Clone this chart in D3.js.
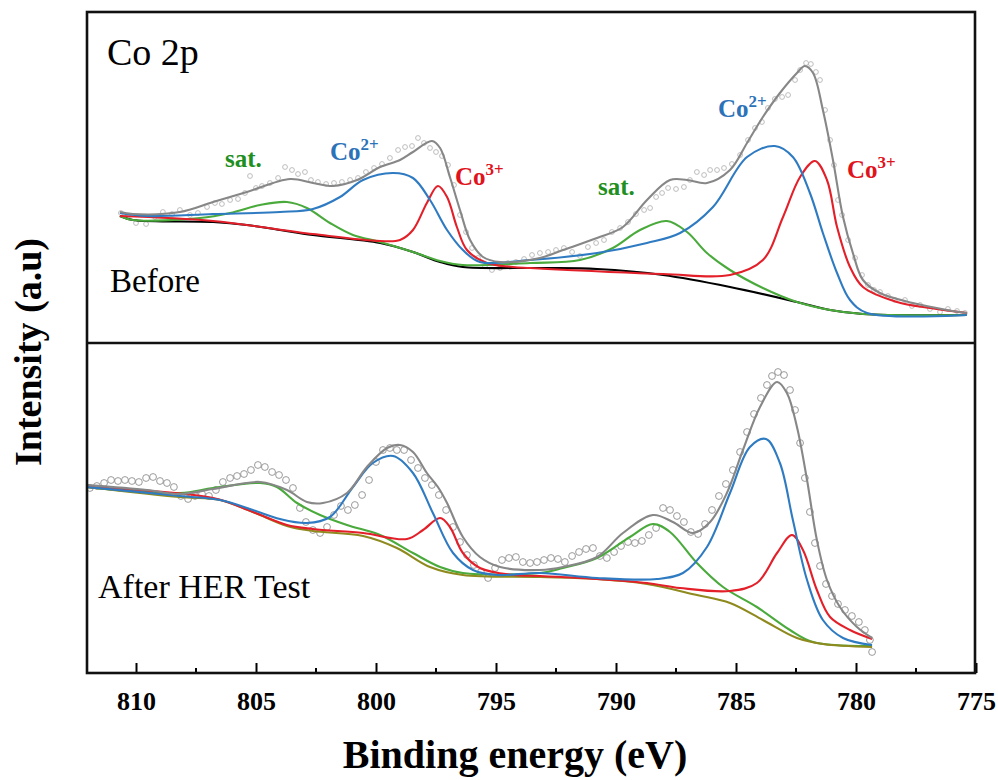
<!DOCTYPE html>
<html>
<head>
<meta charset="utf-8">
<script src="https://cdn.jsdelivr.net/npm/d3@7"></script>
<style>
  body { margin: 0; background: #fff; }
  svg { display: block; }
</style>
</head>
<body>
<div id="container"></div>
<script>
    // Tick values of the binding energy axis
    const majorTicks = [810, 805, 800, 795, 790, 785, 780, 775];
    const minorTicks = [807.5, 802.5, 797.5, 792.5, 787.5, 782.5, 777.5];

    // Before: [binding energy (eV), intensity (a.u.)]
    const topRaw = [[810.63,130],[810.33,127],[810.0,120],[809.58,119],[809.21,126],[808.88,131],[808.5,129],[808.17,133],[807.75,128],[807.42,130],[807.04,136],[806.71,140],[806.42,139],[806.08,143],[805.75,144],[805.46,150],[805.25,167],[805.0,155],[804.75,157],[804.42,160],[804.08,165],[803.79,176],[803.5,173],[803.25,169],[802.96,171],[802.71,163],[802.42,161],[802.08,159],[801.75,160],[801.42,161],[801.08,163],[800.75,165],[800.42,171],[800.08,175],[799.75,179],[799.42,185],[799.08,193],[798.79,196],[798.5,197],[798.25,205],[798.0,200],[797.75,195],[797.5,191],[797.25,187],[797.0,178],[796.75,158],[796.5,128],[796.25,111],[796.0,95],[795.75,85],[795.46,77],[795.17,73],[794.83,75],[794.5,80],[794.17,81],[793.83,84],[793.5,88],[793.17,90],[792.83,91],[792.5,93],[792.17,95],[791.83,91],[791.5,87],[791.17,96],[790.83,100],[790.5,103],[790.17,111],[789.83,115],[789.5,121],[789.17,129],[788.83,133],[788.58,135],[788.33,146],[788.08,150],[787.83,155],[787.5,154],[787.17,156],[786.92,163],[786.63,171],[786.33,168],[786.08,173],[785.79,173],[785.5,175],[785.17,179],[784.83,188],[784.5,203],[784.21,215],[783.92,221],[783.67,235],[783.38,244],[783.08,246],[782.83,248],[782.54,263],[782.33,273],[782.08,280],[781.88,279],[781.67,271],[781.5,263],[781.29,233],[781.08,203],[780.92,178],[780.75,143],[780.58,128],[780.33,103],[780.04,85],[779.75,68],[779.5,58],[779.25,53],[779.0,51],[778.67,47],[778.38,43],[777.96,43],[777.67,37],[777.33,38],[776.92,34],[776.5,31],[776.17,34],[775.79,32],[775.46,30]];
    const topFit = [[810.67,131],[810.13,129],[808.17,131],[806.79,141],[805.38,151],[803.58,164],[802.63,160],[801.79,157],[800.79,163],[799.83,176],[799.0,183],[798.46,191],[797.67,202],[797.33,195],[796.92,166],[796.5,133],[796.08,103],[795.54,86],[794.83,81],[793.17,85],[792.21,93],[790.79,105],[789.71,116],[788.71,143],[787.75,163],[787.04,163],[786.21,160],[785.25,173],[784.54,200],[783.88,226],[783.17,250],[782.46,270],[782.13,277],[781.79,270],[781.38,233],[780.96,183],[780.54,126],[780.13,90],[779.71,63],[779.0,50],[777.63,40],[776.21,33],[775.38,30]];
    const topBg = [[810.67,127],[810.13,123],[806.79,121],[805.38,118],[804.0,113],[802.63,108],[799.83,100],[798.46,91],[797.33,81],[796.38,76],[793.17,75],[790.79,74],[788.04,68],[785.25,56],[782.46,41],[781.08,33],[779.71,29],[775.38,28]];
    const topSat = [[810.67,127],[810.13,123],[807.33,125],[806.08,130],[804.83,138],[803.71,141],[802.88,135],[801.92,120],[800.96,108],[799.83,101],[798.46,91],[797.33,82],[796.38,78],[793.58,80],[791.5,83],[790.13,95],[789.0,113],[787.88,122],[787.04,111],[786.21,90],[785.25,73],[783.88,55],[782.46,41],[781.08,33],[779.71,29],[775.38,28]];
    const topCo2 = [[810.67,130],[809.54,127],[806.79,129],[804.0,131],[802.63,134],[801.5,146],[800.54,163],[799.29,170],[798.46,165],[797.75,143],[797.04,113],[796.38,93],[795.67,81],[793.58,83],[790.79,90],[788.71,100],[787.33,110],[785.96,136],[784.54,186],[783.38,197],[782.63,186],[781.92,150],[781.38,110],[780.79,70],[780.25,43],[779.54,30],[775.38,28]];
    const topCo3 = [[810.67,127],[806.79,122],[802.63,109],[799.83,102],[799.0,103],[798.46,113],[797.88,140],[797.42,157],[797.04,146],[796.63,116],[796.21,93],[795.38,80],[794.29,76],[793.58,75],[788.04,69],[785.25,68],[783.88,83],[783.04,126],[782.33,166],[781.71,182],[781.21,163],[780.79,116],[780.25,76],[779.71,56],[778.29,41],[776.92,35],[775.38,30]];

    // After HER test: [binding energy (eV), intensity (a.u.)]
    const botRaw = [[811.92,185],[811.63,187],[811.33,190],[811.04,193],[810.75,192],[810.46,193],[810.17,192],[809.88,191],[809.58,195],[809.29,196],[809.0,192],[808.71,190],[808.42,186],[808.13,177],[807.83,174],[807.54,177],[807.25,179],[806.96,177],[806.67,183],[806.38,191],[806.08,195],[805.79,197],[805.5,199],[805.21,203],[804.92,208],[804.63,206],[804.33,201],[804.04,198],[803.75,193],[803.46,185],[803.17,165],[802.92,151],[802.63,143],[802.33,140],[802.04,146],[801.75,158],[801.46,167],[801.17,163],[800.88,168],[800.58,178],[800.29,193],[800.0,211],[799.71,223],[799.42,225],[799.13,223],[798.83,223],[798.54,213],[798.25,205],[797.96,195],[797.67,188],[797.38,178],[797.08,163],[796.79,146],[796.5,131],[796.21,118],[795.92,108],[795.63,101],[795.33,95],[795.04,105],[794.75,113],[794.46,115],[794.17,116],[793.88,111],[793.58,110],[793.29,111],[793.0,113],[792.71,115],[792.42,114],[792.13,111],[791.83,117],[791.54,121],[791.25,124],[790.96,125],[790.67,117],[790.38,115],[790.08,121],[789.79,127],[789.5,131],[789.21,130],[788.92,132],[788.63,138],[788.33,145],[788.04,165],[787.75,163],[787.46,157],[787.17,151],[786.88,141],[786.58,139],[786.29,149],[786.0,163],[785.71,177],[785.42,189],[785.13,203],[784.83,221],[784.54,241],[784.25,259],[783.96,275],[783.71,288],[783.5,297],[783.25,301],[783.0,298],[782.75,283],[782.54,263],[782.33,230],[782.13,195],[781.92,161],[781.71,130],[781.5,107],[781.25,89],[781.0,77],[780.75,69],[780.46,63],[780.17,57],[779.88,51],[779.63,43],[779.42,33],[779.33,21]];
    const botFit = [[812.04,188],[809.54,183],[808.17,179],[806.79,184],[804.83,191],[803.71,183],[802.88,171],[802.21,170],[801.21,180],[800.38,206],[799.54,225],[799.0,228],[798.46,221],[797.88,200],[797.42,186],[797.04,170],[796.38,136],[795.67,116],[794.83,106],[793.17,103],[792.21,106],[790.79,116],[789.71,140],[788.46,158],[787.63,151],[786.79,140],[786.08,151],[785.38,180],[784.71,223],[784.0,266],[783.29,291],[782.88,280],[782.46,246],[782.04,193],[781.63,133],[781.21,93],[780.67,66],[779.96,46],[779.33,35]];
    const botBg = [[812.04,186],[808.17,176],[806.5,173],[805.13,161],[803.71,147],[802.63,142],[800.54,137],[799.13,125],[797.75,106],[796.38,98],[793.17,96],[790.79,94],[788.71,89],[786.63,78],[785.25,70],[783.88,53],[782.46,35],[781.38,29],[779.33,26]];
    const botSat = [[812.04,186],[808.17,180],[806.79,185],[804.83,190],[804.13,186],[803.29,170],[802.33,158],[801.21,148],[799.83,138],[798.46,120],[797.33,106],[796.38,100],[793.17,100],[792.21,105],[790.79,115],[789.42,136],[788.46,149],[787.75,141],[786.63,110],[785.54,86],[784.13,66],[782.75,43],[781.79,31],[779.33,27]];
    const botCo2 = [[812.04,186],[808.17,177],[806.5,173],[805.13,163],[804.0,154],[802.88,150],[801.92,156],[800.96,186],[800.13,210],[799.29,217],[798.46,200],[797.63,160],[796.79,120],[795.96,103],[794.96,98],[793.17,100],[790.79,95],[788.29,94],[787.21,100],[786.21,126],[785.25,180],[784.42,226],[783.75,234],[783.17,210],[782.63,153],[782.04,93],[781.38,53],[780.54,35],[779.33,28]];
    const botCo3 = [[812.04,186],[806.79,175],[805.13,161],[803.71,148],[802.63,144],[800.54,140],[798.71,134],[798.04,143],[797.33,155],[796.92,146],[796.38,120],[795.67,105],[794.29,98],[793.17,97],[790.79,94],[788.71,90],[787.33,85],[785.25,82],[784.13,90],[783.29,120],[782.67,138],[782.21,123],[781.63,83],[781.08,56],[780.25,43],[779.33,34]];

    // Peak labels: [text, superscript, binding energy, intensity]
    const topLabels = [["sat.", "", 806.29, 176], ["Co", "2+", 801.92, 183], ["Co", "3+", 796.71, 158],
                       ["sat.", "", 790.75, 148], ["Co", "2+", 785.75, 226], ["Co", "3+", 780.38, 165]];

    const labelColor = { "sat.": "#1f8f22", "2+": "#2c72b8", "3+": "#e0121c" };

    const svg = d3.select("#container")
                    .append("svg")
                    .attr("width", 998)
                    .attr("height", 780);

    const serif = "'Liberation Serif', 'Times New Roman', serif";

    // Scales
    const x = d3.scaleLinear().domain([812, 775]).range([88, 976]);
    const yTop = d3.scaleLinear().domain([0, 330]).range([343, 13]);
    const yBot = d3.scaleLinear().domain([0, 330]).range([673, 343]);

    const panels = [
        { y: yTop, raw: topRaw, r: 2.4, rawStroke: "#b5b5b5",
          curves: [[topBg, "#000"], [topSat, "#4aaa3c"], [topCo3, "#e3202a"], [topCo2, "#2f7bc2"], [topFit, "#878787"]] },
        { y: yBot, raw: botRaw, r: 3.4, rawStroke: "#8f8f8f",
          curves: [[botSat, "#4aaa3c"], [botBg, "#8f8a1e"], [botCo3, "#e3202a"], [botCo2, "#2f7bc2"], [botFit, "#878787"]] }
    ];

    const clip = svg.append("clipPath").attr("id", "plotclip")
        .append("rect").attr("x", 88).attr("y", 13).attr("width", 886).attr("height", 659);

    const plot = svg.append("g").attr("clip-path", "url(#plotclip)");

    panels.forEach(function(p) {
        const line = d3.line()
            .x(d => x(d[0]))
            .y(d => p.y(d[1]))
            .curve(d3.curveCatmullRom.alpha(0.5));

        // raw data circles
        plot.append("g")
            .selectAll("circle")
            .data(p.raw)
            .enter()
            .append("circle")
            .attr("cx", d => x(d[0]))
            .attr("cy", d => p.y(d[1]))
            .attr("r", p.r)
            .attr("fill", "none")
            .attr("stroke", p.rawStroke)
            .attr("stroke-width", 0.9);

        // fitted components
        p.curves.forEach(function(c) {
            plot.append("path")
                .datum(c[0])
                .attr("d", line)
                .attr("fill", "none")
                .attr("stroke", c[1])
                .attr("stroke-width", 2.1);
        });
    });

    // Peak labels
    topLabels.forEach(function(l) {
        const t = svg.append("text")
            .attr("x", x(l[2]))
            .attr("y", yTop(l[3]))
            .attr("font-family", serif)
            .attr("font-weight", "bold")
            .attr("font-size", "25px")
            .attr("fill", l[1] === "" ? labelColor["sat."] : labelColor[l[1]])
            .text(l[0]);
        if (l[1] !== "") {
            t.append("tspan")
                .attr("font-size", "17px")
                .attr("dy", -10)
                .text(l[1]);
        }
    });

    // Panel titles
    svg.append("text").attr("x", 107).attr("y", 65)
        .attr("font-family", serif).attr("font-size", "38px").text("Co 2p");
    svg.append("text").attr("x", 110).attr("y", 292)
        .attr("font-family", serif).attr("font-size", "33px").text("Before");
    svg.append("text").attr("x", 98).attr("y", 598)
        .attr("font-family", serif).attr("font-size", "34px").text("After HER Test");

    // X axis with inward ticks
    const xAxis = svg.append("g")
        .attr("transform", "translate(0,673)")
        .call(d3.axisBottom(x)
                .tickValues(majorTicks)
                .tickSize(-10)
                .tickSizeOuter(0)
                .tickFormat(d3.format("d")));
    xAxis.select(".domain").remove();
    xAxis.selectAll(".tick line").attr("stroke", "#000").attr("stroke-width", 2);
    xAxis.selectAll(".tick text")
        .attr("y", 37)
        .attr("dy", 0)
        .attr("font-family", serif)
        .attr("font-weight", "bold")
        .attr("font-size", "26px")
        .attr("fill", "#000");

    svg.append("g")
        .attr("transform", "translate(0,673)")
        .selectAll("line")
        .data(minorTicks)
        .enter()
        .append("line")
        .attr("x1", d => x(d))
        .attr("x2", d => x(d))
        .attr("y1", 0)
        .attr("y2", -5)
        .attr("stroke", "#000")
        .attr("stroke-width", 2);

    // Frame and panel separator
    svg.append("rect")
        .attr("x", 87).attr("y", 12)
        .attr("width", 888).attr("height", 661)
        .attr("fill", "none")
        .attr("stroke", "#111")
        .attr("stroke-width", 2.6);
    svg.append("line")
        .attr("x1", 87).attr("x2", 975)
        .attr("y1", 343).attr("y2", 343)
        .attr("stroke", "#111")
        .attr("stroke-width", 2.6);

    // Axis titles
    svg.append("text")
        .attr("x", 515).attr("y", 768)
        .attr("text-anchor", "middle")
        .attr("font-family", serif)
        .attr("font-weight", "bold")
        .attr("font-size", "40px")
        .text("Binding energy (eV)");

    svg.append("text")
        .attr("transform", "translate(41,352) rotate(-90)")
        .attr("text-anchor", "middle")
        .attr("font-family", serif)
        .attr("font-weight", "bold")
        .attr("font-size", "38px")
        .text("Intensity (a.u)");
</script>
</body>
</html>
